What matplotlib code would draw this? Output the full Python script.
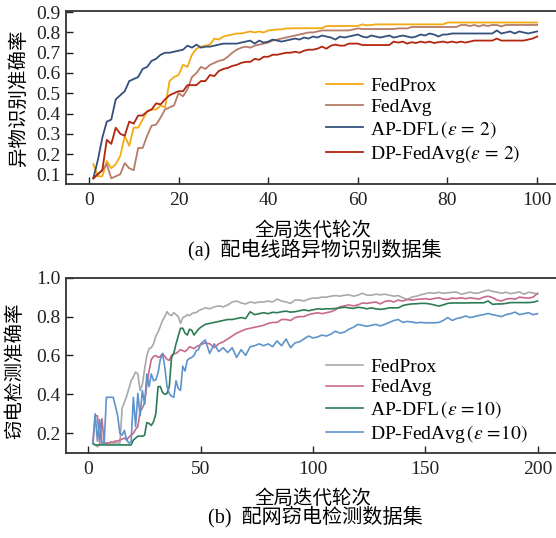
import matplotlib
matplotlib.use("Agg")
import matplotlib.pyplot as plt

plt.rcParams['font.family'] = ['Liberation Serif', 'Noto Sans CJK SC']
plt.rcParams['mathtext.fontset'] = 'stix'
plt.rcParams['axes.unicode_minus'] = False

# ---------------- (a) data ----------------
rounds_a = list(range(1, 101))
fedprox_a = [0.15, 0.09, 0.09, 0.165, 0.13, 0.15, 0.19, 0.29, 0.24, 0.33,
             0.33, 0.37, 0.41, 0.42, 0.42, 0.44, 0.43, 0.56, 0.58, 0.59,
             0.64, 0.63, 0.69, 0.72, 0.73, 0.735, 0.74, 0.77, 0.765, 0.78,
             0.785, 0.79, 0.795, 0.795, 0.80, 0.805, 0.80, 0.805, 0.80, 0.81,
             0.812, 0.815, 0.815, 0.82, 0.82, 0.821, 0.821, 0.821, 0.821, 0.821,
             0.821, 0.821, 0.832, 0.832, 0.832, 0.832, 0.832, 0.832, 0.832, 0.832,
             0.84, 0.835, 0.837, 0.84, 0.84, 0.84, 0.84, 0.84, 0.84, 0.84,
             0.84, 0.84, 0.84, 0.84, 0.84, 0.84, 0.84, 0.84, 0.84, 0.849,
             0.849, 0.849, 0.849, 0.849, 0.849, 0.849, 0.849, 0.849, 0.849, 0.849,
             0.849, 0.849, 0.849, 0.849, 0.849, 0.849, 0.849, 0.849, 0.849, 0.849]
fedavg_a = [0.08, 0.10, 0.12, 0.15, 0.08, 0.09, 0.10, 0.155, 0.13, 0.12,
            0.23, 0.23, 0.29, 0.34, 0.345, 0.38, 0.42, 0.43, 0.44, 0.50,
            0.485, 0.52, 0.58, 0.60, 0.63, 0.62, 0.64, 0.65, 0.66, 0.665,
            0.68, 0.70, 0.715, 0.725, 0.73, 0.725, 0.735, 0.74, 0.745, 0.75,
            0.76, 0.765, 0.77, 0.775, 0.78, 0.785, 0.79, 0.795, 0.80, 0.80,
            0.805, 0.81, 0.81, 0.81, 0.81, 0.81, 0.81, 0.81, 0.815, 0.82,
            0.817, 0.817, 0.817, 0.817, 0.817, 0.817, 0.817, 0.817, 0.82, 0.82,
            0.82, 0.827, 0.827, 0.827, 0.827, 0.827, 0.827, 0.827, 0.827, 0.827,
            0.827, 0.827, 0.837, 0.837, 0.832, 0.837, 0.83, 0.837, 0.832, 0.837,
            0.837, 0.83, 0.837, 0.837, 0.837, 0.837, 0.837, 0.837, 0.837, 0.837]
apdfl_a = [0.08, 0.17, 0.28, 0.36, 0.37, 0.47, 0.49, 0.51, 0.56, 0.57,
           0.58, 0.62, 0.63, 0.66, 0.67, 0.69, 0.70, 0.70, 0.705, 0.71,
           0.715, 0.735, 0.725, 0.74, 0.725, 0.73, 0.73, 0.735, 0.74, 0.745,
           0.745, 0.745, 0.745, 0.75, 0.755, 0.76, 0.745, 0.76, 0.75, 0.755,
           0.765, 0.76, 0.755, 0.76, 0.765, 0.77, 0.765, 0.775, 0.77, 0.78,
           0.775, 0.785, 0.78, 0.775, 0.765, 0.78, 0.775, 0.78, 0.785, 0.79,
           0.78, 0.775, 0.785, 0.78, 0.775, 0.78, 0.785, 0.775, 0.78, 0.785,
           0.78, 0.775, 0.78, 0.79, 0.785, 0.795, 0.79, 0.78, 0.79, 0.79,
           0.795, 0.795, 0.795, 0.795, 0.795, 0.795, 0.795, 0.795, 0.795, 0.795,
           0.81, 0.795, 0.80, 0.805, 0.795, 0.805, 0.80, 0.795, 0.80, 0.805]
dpfedavg_a = [0.08, 0.10, 0.12, 0.27, 0.25, 0.33, 0.30, 0.29, 0.36, 0.35,
              0.39, 0.39, 0.41, 0.42, 0.45, 0.445, 0.47, 0.49, 0.50, 0.51,
              0.51, 0.54, 0.54, 0.54, 0.56, 0.56, 0.59, 0.585, 0.61, 0.62,
              0.625, 0.635, 0.64, 0.65, 0.655, 0.655, 0.67, 0.665, 0.68, 0.68,
              0.69, 0.69, 0.695, 0.70, 0.70, 0.705, 0.70, 0.71, 0.715, 0.715,
              0.72, 0.73, 0.72, 0.735, 0.74, 0.735, 0.735, 0.745, 0.745, 0.745,
              0.738, 0.738, 0.738, 0.738, 0.738, 0.738, 0.738, 0.755, 0.75, 0.755,
              0.745, 0.752, 0.748, 0.755, 0.75, 0.755, 0.748, 0.752, 0.755, 0.75,
              0.755, 0.75, 0.755, 0.75, 0.755, 0.76, 0.76, 0.76, 0.76, 0.76,
              0.77, 0.76, 0.76, 0.76, 0.76, 0.76, 0.76, 0.765, 0.77, 0.78]

# ---------------- (b) data ----------------
rounds_b = list(range(2, 50)) + list(range(50, 201, 2))
fedprox_b = [0.145, 0.14, 0.13, 0.145, 0.15, 0.15, 0.15, 0.15, 0.15, 0.15,
             0.15, 0.15, 0.15, 0.33, 0.36, 0.39, 0.43, 0.47, 0.49, 0.515,
             0.505, 0.42, 0.45, 0.53, 0.60, 0.635, 0.64, 0.66, 0.70, 0.72,
             0.75, 0.78, 0.80, 0.825, 0.81, 0.805, 0.82, 0.81, 0.80, 0.765,
             0.795, 0.80, 0.81, 0.805, 0.815, 0.82, 0.82, 0.83,
             0.835, 0.845, 0.84, 0.85, 0.855, 0.85, 0.86, 0.875, 0.88, 0.87,
             0.865, 0.875, 0.87, 0.875, 0.875, 0.88, 0.875, 0.89, 0.88, 0.875,
             0.868, 0.885, 0.885, 0.88, 0.89, 0.895, 0.895, 0.90, 0.90, 0.905,
             0.908, 0.905, 0.91, 0.912, 0.905, 0.91, 0.92, 0.91, 0.91, 0.915,
             0.912, 0.915, 0.91, 0.905, 0.908, 0.897, 0.888, 0.90, 0.905, 0.912,
             0.918, 0.923, 0.92, 0.925, 0.92, 0.922, 0.925, 0.926, 0.915, 0.92,
             0.926, 0.92, 0.922, 0.93, 0.936, 0.93, 0.925, 0.92, 0.925, 0.918,
             0.922, 0.927, 0.915, 0.925, 0.922, 0.915]
fedavg_b = [0.15, 0.29, 0.29, 0.15, 0.275, 0.15, 0.15, 0.15, 0.155, 0.155,
            0.16, 0.16, 0.165, 0.17, 0.175, 0.165, 0.18, 0.19, 0.20, 0.22,
            0.235, 0.31, 0.33, 0.355, 0.45, 0.52, 0.58, 0.595, 0.60, 0.59,
            0.595, 0.61, 0.595, 0.58, 0.575, 0.60, 0.61, 0.61, 0.62, 0.63,
            0.625, 0.62, 0.63, 0.645, 0.64, 0.635, 0.645, 0.65,
            0.655, 0.665, 0.66, 0.64, 0.66, 0.67, 0.685, 0.70, 0.715, 0.725,
            0.735, 0.74, 0.745, 0.75, 0.755, 0.765, 0.77, 0.77, 0.785, 0.785,
            0.78, 0.795, 0.80, 0.80, 0.81, 0.815, 0.82, 0.815, 0.82, 0.825,
            0.835, 0.85, 0.855, 0.86, 0.855, 0.86, 0.87, 0.868, 0.872, 0.875,
            0.865, 0.878, 0.882, 0.875, 0.885, 0.88, 0.888, 0.885, 0.888, 0.89,
            0.892, 0.888, 0.893, 0.897, 0.89, 0.888, 0.895, 0.893, 0.897, 0.892,
            0.897, 0.893, 0.89, 0.90, 0.905, 0.897, 0.885, 0.88, 0.89, 0.893,
            0.89, 0.90, 0.897, 0.895, 0.90, 0.92]
apdfl_b = [0.148, 0.14, 0.14, 0.14, 0.14, 0.14, 0.14, 0.14, 0.14, 0.14,
           0.14, 0.14, 0.14, 0.14, 0.14, 0.14, 0.14, 0.14, 0.165, 0.175,
           0.185, 0.185, 0.185, 0.19, 0.255, 0.25, 0.24, 0.26, 0.30, 0.44,
           0.44, 0.41, 0.40, 0.405, 0.44, 0.59, 0.61, 0.66, 0.70, 0.74,
           0.74, 0.715, 0.705, 0.735, 0.73, 0.705, 0.72, 0.735,
           0.745, 0.76, 0.765, 0.77, 0.775, 0.78, 0.785, 0.785, 0.79, 0.795,
           0.79, 0.825, 0.81, 0.815, 0.82, 0.815, 0.822, 0.82, 0.825, 0.828,
           0.823, 0.825, 0.83, 0.835, 0.83, 0.835, 0.84, 0.838, 0.84, 0.84,
           0.842, 0.845, 0.848, 0.845, 0.842, 0.848, 0.845, 0.84, 0.845, 0.84,
           0.837, 0.84, 0.845, 0.845, 0.845, 0.857, 0.862, 0.865, 0.866, 0.868,
           0.868, 0.865, 0.86, 0.854, 0.86, 0.868, 0.87, 0.87, 0.87, 0.87,
           0.871, 0.871, 0.871, 0.871, 0.88, 0.863, 0.865, 0.865, 0.868, 0.872,
           0.872, 0.872, 0.872, 0.872, 0.874, 0.88]
dpfedavg_b = [0.15, 0.30, 0.16, 0.27, 0.15, 0.15, 0.385, 0.385, 0.385, 0.385,
              0.34, 0.29, 0.20, 0.19, 0.215, 0.165, 0.15, 0.155, 0.385, 0.235,
              0.405, 0.29, 0.42, 0.35, 0.505, 0.44, 0.505, 0.47, 0.475, 0.51,
              0.58, 0.61, 0.54, 0.44, 0.405, 0.39, 0.385, 0.47, 0.43, 0.42,
              0.545, 0.52, 0.575, 0.585, 0.59, 0.60, 0.625, 0.63,
              0.66, 0.68, 0.61, 0.66, 0.62, 0.64, 0.615, 0.64, 0.59, 0.63,
              0.60, 0.645, 0.65, 0.66, 0.65, 0.66, 0.645, 0.675, 0.65, 0.685,
              0.64, 0.665, 0.67, 0.685, 0.70, 0.69, 0.695, 0.705, 0.70, 0.71,
              0.725, 0.715, 0.72, 0.735, 0.745, 0.76, 0.755, 0.75, 0.755, 0.76,
              0.752, 0.76, 0.77, 0.78, 0.785, 0.77, 0.775, 0.772, 0.768, 0.77,
              0.768, 0.768, 0.768, 0.77, 0.78, 0.795, 0.78, 0.79, 0.795, 0.803,
              0.795, 0.80, 0.806, 0.81, 0.816, 0.81, 0.805, 0.80, 0.81, 0.815,
              0.823, 0.81, 0.815, 0.82, 0.81, 0.815]

labels_a = ['FedProx', 'FedAvg', r'AP-DFL$\,(\varepsilon\,=\,2)$', r'DP-FedAvg$(\varepsilon\,=\,2)$']
labels_b = ['FedProx', 'FedAvg', r'AP-DFL$\,(\varepsilon\,=\!10)$', r'DP-FedAvg$\,(\varepsilon\,=\!10)$']
colors_a = ['#F4AA12', '#B57C68', '#34507C', '#B3260E']
colors_b = ['#A9A9A9', '#C86A8C', '#2D7B55', '#5E93CB']

fig = plt.figure(figsize=(5.56, 5.38), dpi=100)
W, H = 556.0, 538.0
ax1 = fig.add_axes([66 / W, 1 - 184 / H, 494 / W, 173 / H])
ax2 = fig.add_axes([66 / W, 1 - 452.7 / H, 494 / W, 175 / H])

for s, c, l in zip([fedprox_a, fedavg_a, apdfl_a, dpfedavg_a], colors_a, labels_a):
    ax1.plot(rounds_a, s, color=c, lw=1.3, label=l)
for s, c, l in zip([fedprox_b, fedavg_b, apdfl_b, dpfedavg_b], colors_b, labels_b):
    ax2.plot(rounds_b, s, color=c, lw=1.2, label=l)

ax1.set_xlim(-5.1, 105.1)
ax1.set_ylim(0.052, 0.906)
ax1.set_xticks([0, 20, 40, 60, 80, 100])
ax1.set_yticks([0.1, 0.2, 0.3, 0.4, 0.5, 0.6, 0.7, 0.8, 0.9])
ax1.set_yticklabels(['0.1', '0.2', '0.3', '0.4', '0.5', '0.6', '0.7', '0.8', '0.9'])

ax2.set_xlim(-10, 210)
ax2.set_ylim(0.1, 1.0)
ax2.set_xticks([0, 50, 100, 150, 200])
ax2.set_yticks([0.2, 0.4, 0.6, 0.8, 1.0])
ax2.set_yticklabels(['0.2', '0.4', '0.6', '0.8', '1.0'])

for ax in (ax1, ax2):
    ax.tick_params(direction='in', length=5, width=1.0, labelsize=14, colors='#222222',
                   pad=6)
    ax.tick_params(axis='y', pad=4)
    for sp in ax.spines.values():
        sp.set_linewidth(1.3)
        sp.set_color('#333333')

ax1.set_xlabel('全局迭代轮次', fontsize=14)
ax1.xaxis.set_label_coords(0.5, -0.215)
ax1.set_ylabel('异物识别准确率', fontsize=14)
ax1.yaxis.set_label_coords(-0.077, 0.5)
ax2.set_xlabel('全局迭代轮次', fontsize=14)
ax2.xaxis.set_label_coords(0.5, -0.208)
ax2.set_ylabel('窃电检测准确率', fontsize=14)
ax2.yaxis.set_label_coords(-0.084, 0.47)

leg_kw = dict(loc='upper left', frameon=False, fontsize=14, handlelength=1.9,
              handletextpad=0.35, labelspacing=0.15, borderpad=0, borderaxespad=0)
ax1.legend(bbox_to_anchor=(0.527, 0.615), **leg_kw)
ax2.legend(bbox_to_anchor=(0.527, 0.54), **leg_kw)

fig.text(315 / W, 1 - 250 / H, '(a)  配电线路异物识别数据集', ha='center', va='center', fontsize=14.5)
fig.text(315 / W, 1 - 517 / H, '(b)  配网窃电检测数据集', ha='center', va='center', fontsize=14.5)

fig.savefig('out.png', dpi=100)
